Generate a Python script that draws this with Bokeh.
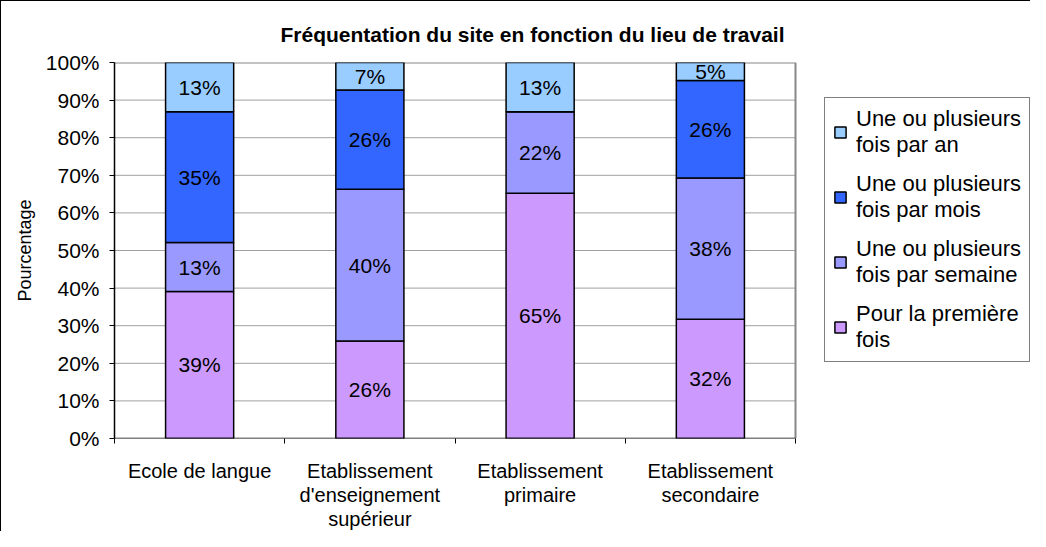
from bokeh.plotting import figure
from bokeh.models import ColumnDataSource, Range1d, FixedTicker, PrintfTickFormatter, Legend, LegendItem
from bokeh.core.properties import value
from bokeh.embed import file_html
from bokeh.resources import INLINE

# ---- data ----
categories = ["Ecole de langue", "Etablissement\nd'enseignement\nsupérieur",
              "Etablissement\nprimaire", "Etablissement\nsecondaire"]
series_names = ["Pour la première\nfois", "Une ou plusieurs\nfois par semaine",
                "Une ou plusieurs\nfois par mois", "Une ou plusieurs\nfois par an"]
premiere = [39.1, 25.9, 65.2, 31.7]
semaine = [13.0, 40.4, 21.7, 37.6]
mois = [34.8, 26.4, 0.0, 25.9]
an = [13.1, 7.3, 13.1, 4.8]
y_ticks = [0, 10, 20, 30, 40, 50, 60, 70, 80, 90, 100]

colors = ["#CC99FF", "#9999FF", "#3366FF", "#99CCFF"]
FONT = "Liberation Sans"

series = [premiere, semaine, mois, an]
keys = ["premiere", "semaine", "mois", "an"]
n = len(categories)
xs = [i + 0.5 for i in range(n)]
totals = [sum(s[i] for s in series) for i in range(n)]
data = {"x": xs}
for k, s in zip(keys, series):
    data[k] = [s[i] / totals[i] * 100 for i in range(n)]
src = ColumnDataSource(data)

# layout: plotting area 681 px wide; frame extended to the right to host the legend
W, H = 1030, 531
LEFT, TOP, BOTTOM = 113, 61, 94
PLOT_PX = 681
frame_px = W - LEFT
x_max = n * frame_px / PLOT_PX

p = figure(width=W, height=H, output_backend="svg", toolbar_location=None,
           x_range=Range1d(0, x_max), y_range=Range1d(0, 100),
           min_border_left=LEFT, min_border_right=0, min_border_top=TOP, min_border_bottom=BOTTOM)
p.styles = {"border-left": "1px solid black", "border-top": "1px solid black"}
p.background_fill_color = "white"
p.border_fill_color = "white"
p.outline_line_color = None

# gridlines and plot-area border
inner = y_ticks[1:-1]
p.segment(x0=[0] * len(inner), x1=[n] * len(inner), y0=inner, y1=inner,
          line_color="#a0a0a0", line_width=1)
p.segment(x0=[0, n], x1=[n, n], y0=[y_ticks[-1], 0], y1=[y_ticks[-1], y_ticks[-1]],
          line_color="#888888", line_width=2)

renderers = p.vbar_stack(keys, x="x", width=0.4, color=colors, line_color="black",
                         line_width=1.5, source=src)

# x axis line
p.segment(x0=[0], x1=[n], y0=[0], y1=[0], line_color="black", line_width=1.5)

# labels
lx, ly, lt = [], [], []
for i in range(n):
    base = 0.0
    for k, s in zip(keys, series):
        v = data[k][i]
        if s[i] > 0:
            lx.append(xs[i])
            ly.append(base + v / 2)
            lt.append(f"{round(s[i])}%")
        base += v
p.text(x=lx, y=ly, text=lt, text_align="center", text_baseline="middle",
       text_font=value(FONT), text_font_size="21px", text_color="black")

# axes
p.xgrid.visible = False
p.ygrid.visible = False
p.yaxis.ticker = FixedTicker(ticks=y_ticks)
p.yaxis.formatter = PrintfTickFormatter(format="%d%%")
p.yaxis.minor_tick_line_color = None
p.yaxis.major_tick_out = 5
p.yaxis.major_tick_in = 0
p.yaxis.major_label_standoff = 10
p.yaxis.major_label_text_font = FONT
p.yaxis.major_label_text_font_size = "21px"
p.yaxis.major_label_text_color = "black"
p.yaxis.axis_line_color = "black"
p.yaxis.axis_line_width = 1.5
p.yaxis.major_tick_line_color = "black"
p.yaxis.axis_label = "Pourcentage"
p.yaxis.axis_label_text_font = FONT
p.yaxis.axis_label_text_font_size = "18px"
p.yaxis.axis_label_text_font_style = "normal"
p.yaxis.axis_label_text_color = "black"
p.yaxis.axis_label_standoff = 8

p.xaxis.ticker = FixedTicker(ticks=xs, minor_ticks=list(range(n + 1)))
p.xaxis.major_label_overrides = {x: c for x, c in zip(xs, categories)}
p.xaxis.axis_line_color = None
p.xaxis.major_tick_out = 0
p.xaxis.major_tick_in = 0
p.xaxis.minor_tick_out = 5
p.xaxis.minor_tick_in = 0
p.xaxis.minor_tick_line_color = "black"
p.xaxis.major_label_standoff = 16
p.xaxis.major_label_text_font = FONT
p.xaxis.major_label_text_font_size = "20px"
p.xaxis.major_label_text_line_height = 1.1
p.xaxis.major_label_text_color = "black"

# title
p.title.text = "Fréquentation du site en fonction du lieu de travail"
p.title.align = "left"
p.title.offset = 166
p.title.standoff = 34
p.title.text_font = FONT
p.title.text_font_size = "21px"
p.title.text_font_style = "bold"
p.title.text_color = "black"

# legend
items = [LegendItem(label=series_names[j], renderers=[renderers[j]]) for j in [3, 2, 1, 0]]
legend = Legend(items=items, location=(710, 76), border_line_color="black",
                border_line_width=1, background_fill_color="white", background_fill_alpha=1,
                label_text_font=FONT, label_text_font_size="22px",
                label_text_line_height=1.35, glyph_width=14, glyph_height=14,
                spacing=13, padding=8, margin=0, label_standoff=9, label_text_color="black")
p.add_layout(legend)

open("out.html", "w").write(file_html(p, INLINE))
